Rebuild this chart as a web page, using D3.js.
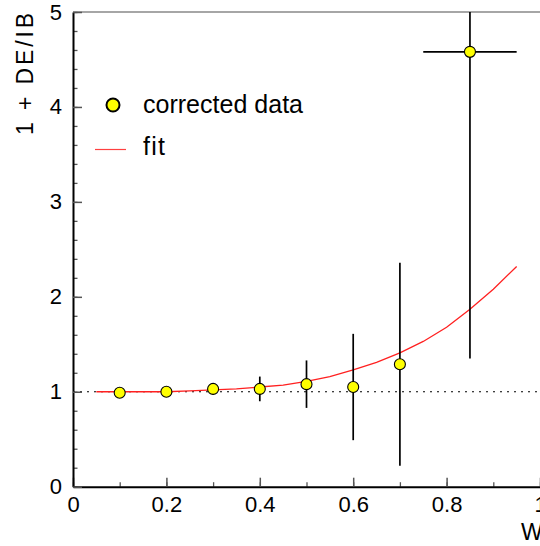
<!DOCTYPE html>
<html><head><meta charset="utf-8">
<script src="https://cdn.jsdelivr.net/npm/d3@7"></script>
<style>body{margin:0;background:#fff}svg{display:block}text{font-family:"Liberation Sans",Arial,sans-serif}</style>
</head><body>
<svg id="c" width="540" height="546"></svg>
<script>
const xVals = [0.1, 0.2, 0.3, 0.4, 0.5, 0.6, 0.7, 0.85];
const yVals = [0.99, 1.00, 1.03, 1.03, 1.08, 1.05, 1.29, 4.58];
const yErr  = [0.0, 0.0, 0.06, 0.13, 0.25, 0.56, 1.07, 3.23];
const xErr  = [0, 0, 0, 0, 0, 0, 0, 0.10];
const fitX = [0.05,0.10,0.15,0.20,0.25,0.30,0.35,0.40,0.45,0.50,0.55,0.60,0.65,0.70,0.75,0.80,0.85,0.90,0.95];
const fitY = [1.00,1.00,1.00,1.00,1.01,1.02,1.03,1.05,1.07,1.11,1.16,1.23,1.31,1.41,1.53,1.68,1.87,2.08,2.32];
const xTicks = [0, 0.2, 0.4, 0.6, 0.8, 1];
const yTicks = [0, 1, 2, 3, 4, 5];
const legendLabels = ["corrected data", "fit"];
const xTitle = "W";
const yTitle = "1 + DE/IB";

const svg = d3.select("#c");
const x = d3.scaleLinear().domain([0, 1]).range([73, 540]);
const y = d3.scaleLinear().domain([0, 5]).range([486.7, 12]);
const fmt = d => String(+d.toFixed(1));

// top frame line
svg.append("line").attr("x1", x(0)).attr("x2", x(1)).attr("y1", y(5)).attr("y2", y(5))
  .attr("stroke", "#888").attr("stroke-width", 1.5);

// dotted reference line
svg.append("line").attr("x1", x(0)).attr("x2", x(1)).attr("y1", y(1)).attr("y2", y(1))
  .attr("stroke", "#000").attr("stroke-width", 1.2).attr("stroke-dasharray", "2,5");

// axes
const xMinor = d3.range(0, 1.0001, 0.1);
const yMinor = d3.range(0, 5.0001, 0.2);
svg.append("g").attr("transform", `translate(0,${y(0)})`)
  .call(d3.axisBottom(x).tickValues(xMinor).tickSize(-4.5).tickFormat(""))
  .call(g => { g.select(".domain").remove(); g.selectAll("line").attr("stroke", "#555").attr("stroke-width", 1.3); });
svg.append("g").attr("transform", `translate(${x(0)},0)`)
  .call(d3.axisLeft(y).tickValues(yMinor).tickSize(-4.5).tickFormat(""))
  .call(g => { g.select(".domain").remove(); g.selectAll("line").attr("stroke", "#555").attr("stroke-width", 1.3); });

const xAxis = svg.append("g").attr("transform", `translate(0,${y(0)})`)
  .call(d3.axisBottom(x).tickValues(xTicks).tickSize(-9).tickPadding(10).tickFormat(fmt).tickSizeOuter(0));
xAxis.select(".domain").attr("stroke", "#000").attr("stroke-width", 2);
xAxis.selectAll("line").attr("stroke", "#555").attr("stroke-width", 1.5);
xAxis.selectAll("text").attr("font-size", 22).attr("fill", "#000");

const yAxis = svg.append("g").attr("transform", `translate(${x(0)},0)`)
  .call(d3.axisLeft(y).tickValues(yTicks).tickSize(-9).tickPadding(11).tickFormat(d3.format("d")).tickSizeOuter(0));
yAxis.select(".domain").attr("stroke", "#000").attr("stroke-width", 2);
yAxis.selectAll("line").attr("stroke", "#555").attr("stroke-width", 1.5);
yAxis.selectAll("text").attr("font-size", 22).attr("fill", "#000");

// titles
svg.append("text").attr("x", 521).attr("y", 540).attr("font-size", 23).text(xTitle);
svg.append("text").attr("transform", "translate(33,13) rotate(-90)").attr("text-anchor", "end")
  .attr("font-size", 23).attr("textLength", 122).attr("lengthAdjust", "spacing").text(yTitle);

// fit curve
const line = d3.line().x(d => x(d[0])).y(d => y(d[1]));
svg.append("path").datum(fitX.map((v, i) => [v, fitY[i]]))
  .attr("d", line).attr("fill", "none").attr("stroke", "#ff2020").attr("stroke-width", 1.3);

// error bars
const pts = xVals.map((v, i) => ({x: v, y: yVals[i], ey: yErr[i], ex: xErr[i]}));
const clampY = v => Math.max(0, Math.min(5, v));
const eb = svg.append("g").attr("stroke", "#000").attr("stroke-width", 1.7);
pts.filter(d => d.ey > 0).forEach(d => {
  eb.append("line").attr("x1", x(d.x)).attr("x2", x(d.x))
    .attr("y1", y(clampY(d.y - d.ey))).attr("y2", y(clampY(d.y + d.ey)));
});
pts.filter(d => d.ex > 0).forEach(d => {
  eb.append("line").attr("x1", x(d.x - d.ex)).attr("x2", x(d.x + d.ex))
    .attr("y1", y(d.y)).attr("y2", y(d.y));
});

// markers
svg.append("g").selectAll("circle").data(pts).join("circle")
  .attr("cx", d => x(d.x)).attr("cy", d => y(d.y)).attr("r", 5.5)
  .attr("fill", "#ffff00").attr("stroke", "#000").attr("stroke-width", 1.1);

// legend
const lg = svg.append("g");
lg.append("circle").attr("cx", 113).attr("cy", 105).attr("r", 6.5)
  .attr("fill", "#ffff00").attr("stroke", "#000").attr("stroke-width", 2);
lg.append("text").attr("x", 143).attr("y", 113).attr("font-size", 25)
  .attr("textLength", 160).attr("lengthAdjust", "spacing").text(legendLabels[0]);
lg.append("line").attr("x1", 95).attr("x2", 126).attr("y1", 149.5).attr("y2", 149.5)
  .attr("stroke", "#ff4040").attr("stroke-width", 1.2);
lg.append("text").attr("x", 143).attr("y", 155).attr("font-size", 25)
  .attr("textLength", 22).attr("lengthAdjust", "spacing").text(legendLabels[1]);
</script>
</body></html>
